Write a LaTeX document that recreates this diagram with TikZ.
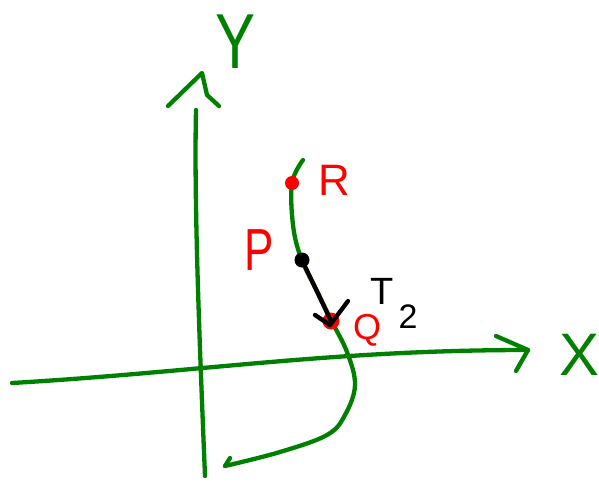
\documentclass[tikz,border=0pt]{standalone}
\usepackage{fontspec}
\setmainfont{Liberation Sans}
\definecolor{pen}{RGB}{0,128,0}
\definecolor{redpen}{RGB}{255,0,0}
\begin{document}
\begin{tikzpicture}[x=1pt,y=-1pt,
  gline/.style={draw=pen, line width=4.3pt, line cap=round, line join=round},
  bline/.style={draw=black, line width=4.3pt, line cap=round, line join=round},
  dot/.style={circle, inner sep=0pt, minimum size=#1},
  lab/.style={inner sep=0pt, font=\fontsize{44}{44}\selectfont}]
\useasboundingbox (0,0) rectangle (599,484);
% axes
\coordinate (ybot) at (205,476);
\coordinate (ytop) at (196,110);
\draw[gline] (ybot) .. controls (199,330) and (194,200) .. (ytop);
\coordinate (ya1) at (168,106);
\coordinate (ya2) at (202,73);
\coordinate (ya3) at (207,95);
\coordinate (ya4) at (219,106);
\draw[gline] (ya1) -- (ya2) -- (ya3) -- (ya4);
\coordinate (xl) at (12,383);
\coordinate (xr) at (528,350);
\draw[gline] (xl) .. controls (200,372) and (330,350) .. (xr);
\coordinate (xa1) at (496,336);
\coordinate (xa2) at (516,371);
\draw[gline] (xa1) -- (xr) -- (xa2);
% axis labels
\node[lab, text=pen, font=\fontsize{60}{60}\selectfont, yscale=1.3] (Ylab) at (236,42) {Y};
\node[lab, text=pen, font=\fontsize{60}{60}\selectfont] (Xlab) at (580,355) {X};
% curve
\coordinate (ctop) at (303,160);
\coordinate (cend) at (225,466);
\draw[gline] plot[smooth, tension=0.6] coordinates {(ctop) (292,183) (293,225) (301,258) (318,293) (331,320) (347,352) (355,385) (345,415) (327,435) (280,452) (cend)};
\coordinate (ct) at (230,458);
\draw[gline] (cend) -- (ct);
% points
\node[dot=15pt, fill=black] (P) at (302,260) {};
\node[dot=14pt, fill=redpen] (R) at (292,183) {};
\node[dot=17pt, fill=redpen] (Q) at (331,321) {};
\draw[bline] (P) -- (Q.center);
\coordinate (qa1) at (315,315);
\coordinate (qa2) at (348,301);
\coordinate (qt) at (330,325);
\draw[bline] (qa1) -- (qt) -- (qa2);
% labels
\node[lab, text=redpen] (Rlab) at (334,180) {R};
\node[lab, text=redpen, yscale=1.35] (Plab) at (259,250) {P};
\node[lab, text=redpen, font=\fontsize{36}{36}\selectfont] (Qlab) at (367,330) {Q};
\node[lab, text=black, font=\fontsize{38}{38}\selectfont] (Tlab) at (382,291) {T};
\node[lab, text=black, font=\fontsize{34}{34}\selectfont] (Tsub) at (408,317) {2};
\end{tikzpicture}
\end{document}
